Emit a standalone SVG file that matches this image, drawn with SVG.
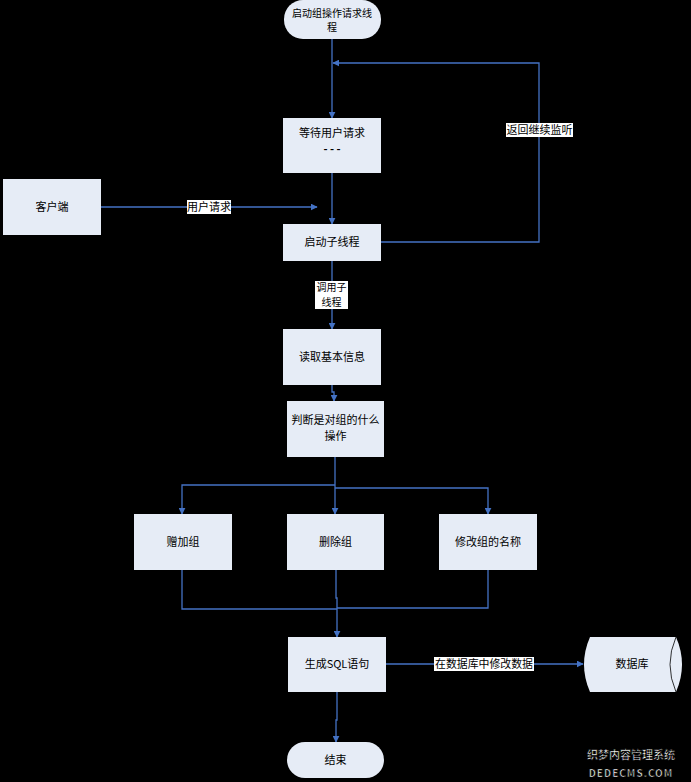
<svg xmlns="http://www.w3.org/2000/svg" width="691" height="782" viewBox="0 0 691 782">
<defs>
<style>
.n{fill:#E6ECF6;stroke:none}
.t{font-family:"Noto Sans CJK SC","Liberation Sans",sans-serif;font-size:11px;fill:#000;text-anchor:middle}
.s{font-size:10px}
.c{fill:none;stroke:#4472C4;stroke-width:1.3}
.lb{fill:#fff}
.wm{font-family:"Noto Sans CJK SC","Liberation Sans",sans-serif;font-weight:bold;fill:#fff;stroke:#000;stroke-width:0.6;text-anchor:middle}
</style>
<marker id="a" viewBox="0 0 10 10" refX="9" refY="5" markerWidth="7" markerHeight="7" orient="auto" markerUnits="userSpaceOnUse">
<path d="M0,0 L10,5 L0,10 z" fill="#4472C4"/>
</marker>
</defs>
<rect x="0" y="0" width="691" height="782" fill="#000"/>
<g id="connectors">
<path class="c" d="M332,39 V118" marker-end="url(#a)"/>
<path class="c" d="M381,242 H539 V63 H333" marker-end="url(#a)"/>
<path class="c" d="M332,173 V224" marker-end="url(#a)"/>
<path class="c" d="M101,207 H317" marker-end="url(#a)"/>
<path class="c" d="M332,261 V329" marker-end="url(#a)"/>
<path class="c" d="M332,385 V392 H334 V401" marker-end="url(#a)"/>
<path class="c" d="M335,457 V514" marker-end="url(#a)"/>
<path class="c" d="M335,485 H182 V514" marker-end="url(#a)"/>
<path class="c" d="M335,488 H488 V514" marker-end="url(#a)"/>
<path class="c" d="M182,570 V609 H337"/>
<path class="c" d="M488,570 V608 H337"/>
<path class="c" d="M336,570 V598 H337 V637" marker-end="url(#a)"/>
<path class="c" d="M386,664 H583" marker-end="url(#a)"/>
<path class="c" d="M337,692 V720 H336 V742" marker-end="url(#a)"/>
<rect class="lb" x="506" y="123" width="67" height="14"/>
<text class="t" x="539.5" y="134">返回继续监听</text>
<rect class="lb" x="187" y="200" width="44" height="14"/>
<text class="t" x="209" y="211">用户请求</text>
<rect class="lb" x="315" y="281" width="33" height="28"/>
<text class="t s" x="331.5" y="291">调用子</text>
<text class="t s" x="331.5" y="306">线程</text>
<rect class="lb" x="434" y="657" width="100" height="14"/>
<text class="t" x="484" y="668" textLength="98" lengthAdjust="spacingAndGlyphs">在数据库中修改数据</text>
</g>
<g id="start">
<rect class="n" x="284" y="0" width="97" height="39" rx="19" ry="19"/>
<text class="t s" x="332" y="17">启动组操作请求线</text>
<text class="t s" x="332" y="31">程</text>
</g>
<g id="wait">
<rect class="n" x="283" y="118" width="98" height="55"/>
<text class="t" x="332" y="137">等待用户请求</text>
<text class="t" x="332" y="153" style="font-weight:bold">- - -</text>
</g>
<g id="client">
<rect class="n" x="3" y="179" width="98" height="56"/>
<text class="t" x="52" y="211">客户端</text>
</g>
<g id="spawn">
<rect class="n" x="283" y="224" width="98" height="37"/>
<text class="t" x="332" y="246">启动子线程</text>
</g>
<g id="read">
<rect class="n" x="283" y="329" width="98" height="56"/>
<text class="t" x="332" y="361">读取基本信息</text>
</g>
<g id="judge">
<rect class="n" x="287" y="401" width="97" height="56"/>
<text class="t" x="335.5" y="424">判断是对组的什么</text>
<text class="t" x="335.5" y="440">操作</text>
</g>
<g id="add">
<rect class="n" x="134" y="514" width="98" height="56"/>
<text class="t" x="183" y="546">赠加组</text>
</g>
<g id="del">
<rect class="n" x="287" y="514" width="97" height="56"/>
<text class="t" x="335.5" y="546">删除组</text>
</g>
<g id="rename">
<rect class="n" x="439" y="514" width="98" height="56"/>
<text class="t" x="488" y="546">修改组的名称</text>
</g>
<g id="sql">
<rect class="n" x="288" y="637" width="98" height="55"/>
<text class="t" x="337" y="668">生成SQL语句</text>
</g>
<g id="db">
<path class="n" d="M590,637 H676 Q688,664.5 676,692 H590 Q578,664.5 590,637 Z"/>
<path d="M676,637 Q664,664.5 676,692" fill="none" stroke="#000" stroke-width="0.8"/>
<text class="t" x="632" y="668">数据库</text>
</g>
<g id="end">
<rect class="n" x="287" y="742" width="97" height="36" rx="18" ry="18"/>
<text class="t" x="335.5" y="764">结束</text>
</g>
<g id="watermark">
<text class="wm" x="631" y="759" font-size="11">织梦内容管理系统</text>
<text class="wm" x="631" y="777" font-size="10" letter-spacing="1">DEDECMS.COM</text>
</g>
</svg>
